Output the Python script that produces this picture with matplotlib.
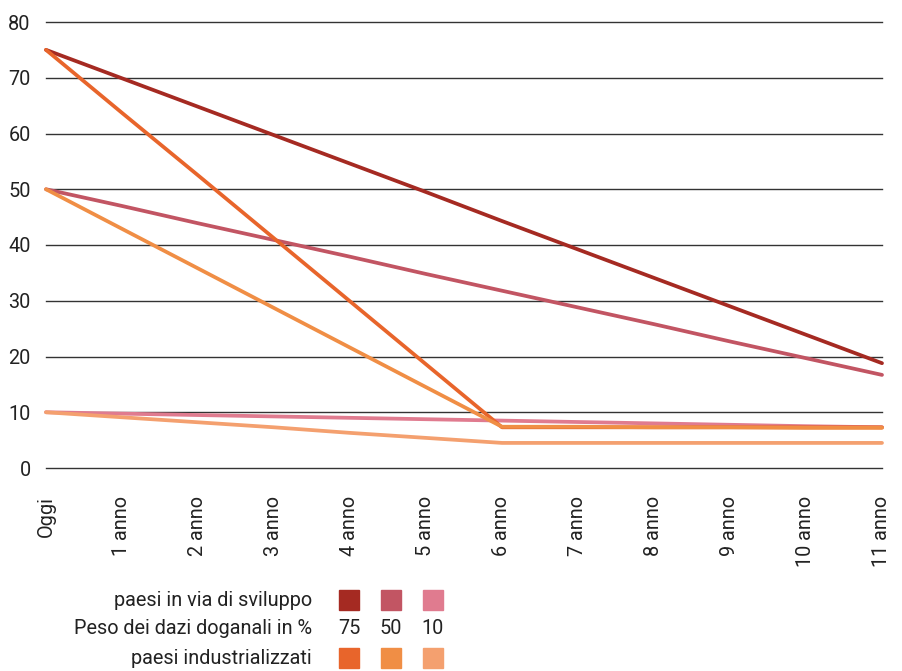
import numpy as np
import matplotlib.pyplot as plt
from matplotlib.patches import Rectangle

plt.rcParams['font.family'] = ['Roboto', 'DejaVu Sans']

categories = ['Oggi'] + [f'{i} anno' for i in range(1, 12)]

# developing countries (paesi in via di sviluppo)
dev_75 = [75, 69.9, 64.8, 59.7, 54.6, 49.5, 44.3, 39.2, 34.1, 29.0, 23.9, 18.8]
dev_50 = [50, 47.0, 43.9, 40.9, 37.9, 34.8, 31.8, 28.8, 25.8, 22.7, 19.7, 16.7]
dev_10 = [10, 9.75, 9.5, 9.25, 9.0, 8.75, 8.5, 8.25, 8.0, 7.75, 7.5, 7.3]
# industrialised countries (paesi industrializzati)
ind_75 = [75, 63.7, 52.5, 41.2, 29.9, 18.6, 7.3, 7.3, 7.3, 7.3, 7.3, 7.3]
ind_50 = [50, 42.9, 35.8, 28.7, 21.6, 14.5, 7.4, 7.4, 7.3, 7.3, 7.2, 7.2]
ind_10 = [10, 9.1, 8.2, 7.3, 6.3, 5.4, 4.5, 4.5, 4.5, 4.5, 4.5, 4.5]

weights = ['75', '50', '10']
dev_colors = ['#a52a22', '#c25563', '#e07b8f']
ind_colors = ['#e8652b', '#f08e45', '#f4a06f']

FS = 14.3
TXT = '#222222'

fig = plt.figure(figsize=(9.03, 6.71), dpi=100)
ax = fig.add_axes([46/903, 203/671, 836/903, 446/671])

x = np.arange(len(categories))
for vals, c in zip([dev_75, dev_50, dev_10], dev_colors):
    ax.plot(x, vals, color=c, lw=2.7, solid_capstyle='round', zorder=3, clip_on=False)
for vals, c in zip([ind_75, ind_50, ind_10], ind_colors):
    ax.plot(x, vals, color=c, lw=2.7, solid_capstyle='round', zorder=4, clip_on=False)

ax.set_xlim(0, len(categories) - 1)
ax.set_ylim(0, 80)
ax.set_yticks(range(0, 81, 10))
ax.set_xticks(x)
ax.set_xticklabels(categories, rotation=90, va='top', ha='center')
ax.grid(axis='y', color='#333333', lw=1.0)
for gl in ax.get_ygridlines():
    gl.set_clip_on(False)
ax.set_axisbelow(True)
for s in ax.spines.values():
    s.set_visible(False)
ax.tick_params(axis='both', length=0, labelsize=FS, colors=TXT)
ax.tick_params(axis='y', pad=11)
ax.tick_params(axis='x', pad=20)

# legend table below the chart
rows_y = [600, 629, 658]
col_x = [349, 391, 433]
tkw = dict(ha='right', va='center', fontsize=FS, color=TXT)
fig.text(312/903, 1 - rows_y[0]/671, 'paesi in via di sviluppo', **tkw)
fig.text(312/903, 1 - rows_y[1]/671, 'Peso dei dazi doganali in %', **tkw)
fig.text(312/903, 1 - rows_y[2]/671, 'paesi industrializzati', **tkw)
sq = 20
for cx, dc, ic, w in zip(col_x, dev_colors, ind_colors, weights):
    fig.patches.append(Rectangle(((cx - sq/2)/903, 1 - (rows_y[0] + sq/2)/671), sq/903, sq/671,
                                 transform=fig.transFigure, color=dc))
    fig.patches.append(Rectangle(((cx - sq/2)/903, 1 - (rows_y[2] + sq/2)/671), sq/903, sq/671,
                                 transform=fig.transFigure, color=ic))
    fig.text(cx/903, 1 - rows_y[1]/671, w, ha='center', va='center', fontsize=FS, color=TXT)

fig.savefig('out.png', dpi=100)
